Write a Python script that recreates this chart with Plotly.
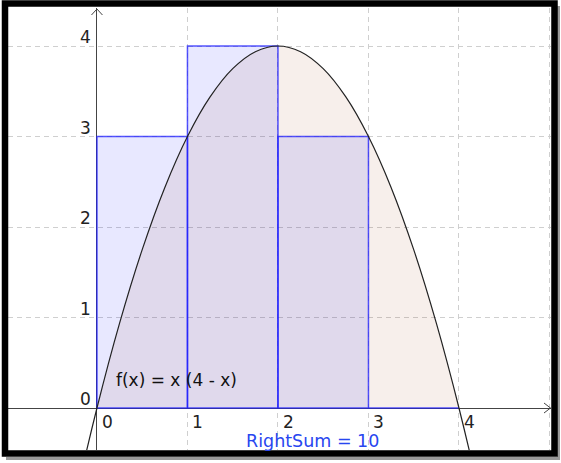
import plotly.graph_objects as go

# f(x) = x (4 - x)
curve_x = [-0.5, -0.25, 0, 0.25, 0.5, 0.75, 1, 1.25, 1.5, 1.75, 2,
           2.25, 2.5, 2.75, 3, 3.25, 3.5, 3.75, 4, 4.25, 4.5]
curve_y = [-2.25, -1.0625, 0, 0.9375, 1.75, 2.4375, 3, 3.4375, 3.75, 3.9375, 4,
           3.9375, 3.75, 3.4375, 3, 2.4375, 1.75, 0.9375, 0, -1.0625, -2.25]

# right-endpoint rectangles on [0, 4], n = 4
rect_left = [0, 1, 2, 3]
rect_right = [1, 2, 3, 4]
rect_height = [3, 4, 3, 0]

x_ticks = [0, 1, 2, 3, 4]
y_ticks = [0, 1, 2, 3, 4]

func_label = "f(x) = x (4 - x)"
sum_label = "RightSum = 10"

W, H = 561, 463
FONT = "DejaVu Sans"


def px(x):
    return x / W


def py(y):
    return 1 - y / H


fig = go.Figure()

# area under the curve between 0 and 4
area_x = [x for x in curve_x if 0 <= x <= 4]
area_y = [y for x, y in zip(curve_x, curve_y) if 0 <= x <= 4]
fig.add_trace(go.Scatter(x=area_x, y=area_y, mode="lines", line=dict(width=0, shape="spline"),
                         fill="tozeroy", fillcolor="rgba(153,51,0,0.08)", hoverinfo="skip"))

for a, b, h in zip(rect_left, rect_right, rect_height):
    fig.add_trace(go.Scatter(x=[a, a, b, b, a], y=[0, h, h, 0, 0], mode="lines",
                             line=dict(color="rgba(30,30,255,0.75)", width=1.5),
                             fill="toself", fillcolor="rgba(0,0,255,0.09)", hoverinfo="skip"))

fig.add_trace(go.Scatter(x=curve_x, y=curve_y, mode="lines",
                         line=dict(color="#222", width=1.2, shape="spline"), hoverinfo="skip"))

annotations = []
for t in x_ticks:
    annotations.append(dict(x=t, y=0, text=str(t), showarrow=False, xanchor="left", yanchor="top",
                            xshift=3, yshift=-2, font=dict(family=FONT, size=17, color="#222")))
for t in y_ticks:
    annotations.append(dict(x=0, y=t, text=str(t), showarrow=False, xanchor="right", yanchor="bottom",
                            xshift=-4, yshift=-3, font=dict(family=FONT, size=17, color="#222")))
annotations.append(dict(x=0.19, y=0.31, text=func_label, showarrow=False, xanchor="left", yanchor="middle",
                        font=dict(family=FONT, size=17, color="#111")))
annotations.append(dict(x=1.62, y=-0.36, text=sum_label, showarrow=False, xanchor="left", yanchor="middle",
                        font=dict(family=FONT, size=17.5, color="rgb(40,70,240)")))

shapes = [
    # axis arrow heads
    dict(type="path", xref="x", yref="y domain", xsizemode="pixel", ysizemode="pixel",
         xanchor=0, yanchor=1, path="M -5.5,-7 L 0,-1 L 5.5,-7",
         line=dict(color="#444", width=1)),
    dict(type="path", xref="x domain", yref="y", xsizemode="pixel", ysizemode="pixel",
         xanchor=1, yanchor=0, path="M -7,5 L -0.5,0 L -7,-5",
         line=dict(color="#444", width=1)),
    # drop shadow
    dict(type="line", xref="paper", yref="paper", x0=px(558.5), x1=px(558.5), y0=py(6), y1=py(460),
         line=dict(color="#9a9a9a", width=3)),
    dict(type="line", xref="paper", yref="paper", x0=px(6), x1=px(560), y0=py(458.5), y1=py(458.5),
         line=dict(color="#9a9a9a", width=3)),
    # frame
    dict(type="rect", xref="paper", yref="paper", x0=px(5), x1=px(554.5), y0=py(3.5), y1=py(453.5),
         line=dict(color="black", width=6.5)),
]

fig.update_layout(
    width=W, height=H,
    margin=dict(l=0, r=0, t=0, b=0),
    paper_bgcolor="white", plot_bgcolor="white",
    showlegend=False,
    annotations=annotations,
    shapes=shapes,
    xaxis=dict(domain=[px(8), px(551)], range=[-0.983, 5.017], dtick=1, tick0=0,
               showticklabels=False, ticks="", showgrid=True, gridcolor="#cfcfcf", gridwidth=1,
               griddash="5px,4px", zeroline=True, zerolinecolor="#444", zerolinewidth=1,
               showline=False, fixedrange=True),
    yaxis=dict(domain=[py(450), py(8)], range=[-0.464, 4.42], dtick=1, tick0=0,
               showticklabels=False, ticks="", showgrid=True, gridcolor="#cfcfcf", gridwidth=1,
               griddash="5px,4px", zeroline=True, zerolinecolor="#444", zerolinewidth=1,
               showline=False, fixedrange=True),
)

# the page's default body margin would push the figure off the window
fig.write_html("out.html", config={"displayModeBar": False},
               post_script="document.body.style.margin = '0px';")
